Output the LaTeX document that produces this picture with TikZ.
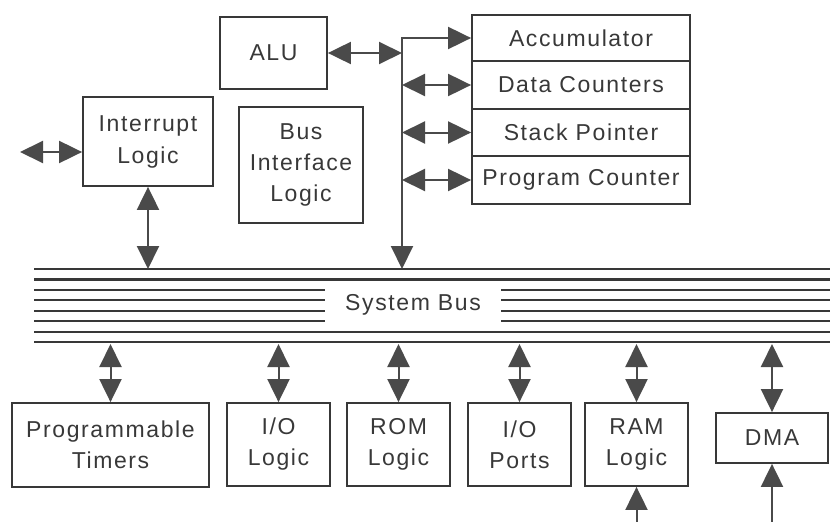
\documentclass[tikz,border=0pt]{standalone}
\usepackage{fontspec}
\setmainfont[LetterSpace=7]{Liberation Sans}
\usetikzlibrary{arrows.meta}
\definecolor{ink}{HTML}{383838}
\definecolor{arrowgray}{HTML}{4A4A4A}

\begin{document}
\begin{tikzpicture}[x=1pt,y=-1pt,
	box/.style={draw=ink,line width=1.8pt,text=ink,align=center,inner sep=0pt,font=\fontsize{23}{31}\selectfont},
	dbl/.style={arrowgray,line width=2pt,{Triangle[length=23pt,width=22pt]}-{Triangle[length=23pt,width=22pt]}},
	one/.style={arrowgray,line width=2pt,-{Triangle[length=23pt,width=22pt]}},
	busline/.style={ink,line width=2.2pt}]
					\useasboundingbox (0,0) rectangle (830,522);
					\node[box,minimum width=107pt,minimum height=72pt] (alu) at (273.5,53) {ALU};
					\node[box,minimum width=130pt,minimum height=89pt] (intr) at (148,141.5) {Interrupt\\[1pt]Logic};
					\node[box,minimum width=124pt,minimum height=116pt] (biu) at (301,165) {Bus\\Interface\\Logic};
					\node[box,minimum width=218pt,minimum height=46pt] (acc) at (581,38) {Accumulator};
					\node[box,minimum width=218pt,minimum height=48pt] (dc) at (581,85) {Data Counters};
					\node[box,minimum width=218pt,minimum height=47pt] (sp) at (581,132.5) {Stack Pointer};
					\node[box,minimum width=218pt,minimum height=48pt] (pc) at (581,180) {Program Counter};
					\node[box,draw=none,minimum width=175pt] (sysbus) at (413,305) {System Bus};
					\node[box,minimum width=197pt,minimum height=84pt] (tmr) at (110.5,445) {Programmable\\Timers};
					\node[box,minimum width=103pt,minimum height=83pt] (iol) at (278.5,444.5) {I/O\\Logic};
					\node[box,minimum width=103pt,minimum height=83pt] (rom) at (398.5,444.5) {ROM\\Logic};
					\node[box,minimum width=103pt,minimum height=83pt] (iop) at (519.5,444.5) {I/O\\Ports};
					\node[box,minimum width=103pt,minimum height=83pt] (ram) at (636.5,444.5) {RAM\\Logic};
					\node[box,minimum width=112pt,minimum height=50pt] (dma) at (772,438) {DMA};
					\coordinate (bustop) at (0,269);
					\coordinate (busbot) at (0,344);
					\coordinate (spine) at (402,0);
					\coordinate (irq) at (20,152);
					\foreach \y in {269,279.4,331.6,342}
					\draw[busline] (34,\y) -- (830,\y);
					\foreach \y in {289.9,300.3,310.7,321.1}
					\draw[busline] (34,\y) -- (sysbus.west |- 0,\y) (sysbus.east |- 0,\y) -- (830,\y);
					\draw[dbl] (irq) -- (irq -| intr.west);
					\draw[dbl] (intr.south) -- (intr.south |- bustop);
					\draw[dbl] (alu.east) -- (alu.east -| spine);
					\draw[dbl] (spine |- bustop) -- (spine |- acc.west) -- (acc.west);
					\foreach \r in {dc,sp,pc}
					\draw[dbl] (spine |- \r.west) -- (\r.west);
					\foreach \b in {tmr,iol,rom,iop,ram,dma}
					\draw[dbl] (\b.north |- busbot) -- (\b.north);
					\foreach \b in {ram,dma}
					\draw[one] (\b.south |- 0,522) -- (\b.south);
				\end{tikzpicture}
\end{document}
